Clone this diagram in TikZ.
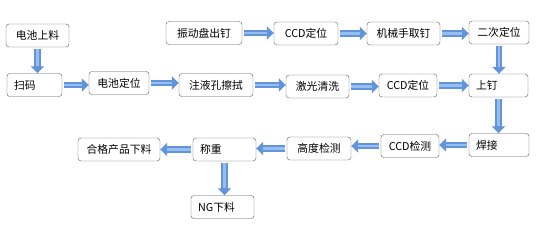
\documentclass[tikz,border=0pt]{standalone}
\usepackage{fontspec}
\setmainfont{Noto Sans CJK SC}
\usetikzlibrary{arrows.meta}
\definecolor{flowblue}{RGB}{98,148,218}
\definecolor{flowlight}{RGB}{150,190,240}

\begin{document}
\begin{tikzpicture}[x=1pt,y=-1pt,
    box/.style={draw=black!65,rounded corners=3pt,minimum height=23pt,inner sep=2pt,
      font=\fontsize{10.8}{12}\selectfont},
    lbox/.style={box,align=left,inner xsep=7pt},
    flow/.style={line width=6.5pt,draw=flowblue,-{Triangle[width=13pt,length=7pt]},shorten <=2pt,
      postaction={draw=flowlight,line width=2.5pt,-,shorten >=7pt}}]
\useasboundingbox (0,0) rectangle (557,225);

% Top row: nail feeding
\node[box,minimum width=76pt] (feed) at (204,33) {振动盘出钉};
\node[box,minimum width=64pt] (ccda) at (306,33.5) {CCD定位};
\node[box,minimum width=73pt] (grab) at (403.5,33.5) {机械手取钉};
\node[box,minimum width=60pt] (second) at (499,32.5) {二次定位};

% Battery loading
\node[box,minimum width=63pt] (load) at (37.5,35.5) {电池上料};

% Middle row: battery line
\node[lbox,text width=41pt] (scan) at (34.5,85) {扫码};
\node[box,minimum width=60pt] (place) at (119,83) {电池定位};
\node[box,minimum width=74pt] (wipe) at (216,85) {注液孔擦拭};
\node[box,minimum width=63pt] (laser) at (317.5,86.5) {激光清洗};
\node[box,minimum width=58pt] (ccdb) at (408,85.5) {CCD定位};
\node[lbox,text width=45pt] (nail) at (498.5,85.5) {上钉};

% Bottom row: back towards unloading
\node[lbox,text width=46pt] (weld) at (499,145) {焊接};
\node[box,minimum width=58pt] (ccdc) at (410,146) {CCD检测};
\node[box,minimum width=64pt] (height) at (319,148.5) {高度检测};
\node[lbox,text width=49pt] (weigh) at (224.5,149.5) {称重};
\node[box,minimum width=82pt] (good) at (119,149.5) {合格产品下料};
\node[lbox,text width=49pt] (ng) at (222.5,207) {NG下料};

% Arrows along the top row
\draw[flow] (feed.east) -- (feed.east -| ccda.west);
\draw[flow] (ccda.east) -- (ccda.east -| grab.west);
\draw[flow] (grab.east) -- (grab.east -| second.west);

% Arrows along the middle row
\draw[flow] (load.south) -- (load.south |- scan.north);
\draw[flow] (scan.east) -- (scan.east -| place.west);
\draw[flow] (place.east) -- (place.east -| wipe.west);
\draw[flow] (wipe.east) -- (wipe.east -| laser.west);
\draw[flow] (laser.east) -- (laser.east -| ccdb.west);
\draw[flow] (ccdb.east) -- (ccdb.east -| nail.west);

% Down the right side
\draw[flow] (second.south) -- (second.south |- nail.north);
\draw[flow] (nail.south) -- (nail.south |- weld.north);

% Back along the bottom row
\draw[flow] (weld.west) -- (weld.west -| ccdc.east);
\draw[flow] (ccdc.west) -- (ccdc.west -| height.east);
\draw[flow] (height.west) -- (height.west -| weigh.east);
\draw[flow] (weigh.west) -- (weigh.west -| good.east);
\draw[flow] (weigh.south) -- (weigh.south |- ng.north);

\end{tikzpicture}
\end{document}
